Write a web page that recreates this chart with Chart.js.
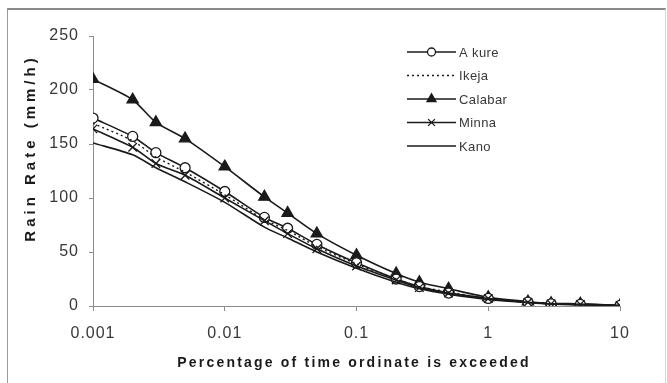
<!DOCTYPE html>
<html>
<head>
<meta charset="utf-8">
<script src="https://cdn.jsdelivr.net/npm/chart.js@4.4.1/dist/chart.umd.min.js"></script>
<style>
  html, body { margin: 0; padding: 0; background: #fff; }
  #wrap { position: relative; width: 667px; height: 383px; }
  #frame {
    position: absolute; left: 7px; top: 8px; width: 657px; height: 400px;
    border-left: 1px solid #9a9a9a; border-top: 2px solid #8a8a8a; border-right: 1px solid #d8d8d8;
    pointer-events: none;
  }
</style>
</head>
<body>
<div id="wrap">
  <canvas id="chart" width="667" height="383"></canvas>
  <div id="frame"></div>
</div>
<script>
const percentages = [0.001, 0.002, 0.003, 0.005, 0.01, 0.02, 0.03, 0.05, 0.1, 0.2, 0.3, 0.5, 1, 2, 3, 5, 10];

const akure   = [174, 157, 142, 128, 106, 82, 72, 57, 40, 25, 18, 12, 7, 3.5, 2, 1.5, 0.5];
const ikeja   = [169, 153, 138, 124, 103, 80, 70, 55, 39, 25, 18, 13, 7, 4, 2, 1.5, 0.5];
const calabar = [210, 191, 170, 155, 129, 101, 86, 67, 47, 30, 22, 16, 8, 4, 2.5, 2, 0.5];
const minna   = [164, 147, 132, 121, 100, 79, 67, 53, 37, 24, 17, 12, 7, 3.5, 2, 1.5, 0.5];
const kano    = [151, 140, 128, 115, 96, 73, 63, 50, 35, 22, 16, 11, 6, 3, 2, 1, 0.5];

const xTicks = [0.001, 0.01, 0.1, 1, 10];
const yTicks = [0, 50, 100, 150, 200, 250];

const INK = '#1a1a1a';
const LABEL = '#383838';
const AXIS = '#8c8c8c';
const FONT = '"Liberation Sans", Arial, sans-serif';

function series(label, values, extra) {
    return Object.assign({
        label,
        data: percentages.map((p, i) => ({ x: p, y: values[i] })),
        borderColor: INK,
        backgroundColor: INK,
        borderWidth: 1.6,
        tension: 0.25,
        pointRadius: 0,
        pointBorderColor: INK,
        pointBorderWidth: 1.3,
    }, extra);
}

const datasets = [
    series('Kano', kano, {}),
    series('Minna', minna, { pointStyle: 'crossRot', pointRadius: 6 }),
    series('Ikeja', ikeja, { borderDash: [2, 3], borderWidth: 1.4 }),
    series('A kure', akure, { pointStyle: 'circle', pointRadius: 5, pointBackgroundColor: '#fff' }),
    series('Calabar', calabar, { pointStyle: 'triangle', pointRadius: 6.5 }),
];

const legendOrder = ['A kure', 'Ikeja', 'Calabar', 'Minna', 'Kano'];

const spacing = {
    id: 'spacing',
    beforeDraw(chart) { chart.ctx.letterSpacing = '1px'; },
    beforeLayout(chart) { chart.ctx.letterSpacing = '1px'; },
};

const overlay = {
    id: 'overlay',
    afterDraw(chart) {
        const ctx = chart.ctx;
        ctx.save();
        ctx.fillStyle = INK;

        // axis titles
        ctx.font = 'bold 14px ' + FONT;
        ctx.letterSpacing = '2.2px';
        ctx.textAlign = 'center';
        ctx.textBaseline = 'middle';
        ctx.fillText('Percentage of time ordinate is exceeded', 354, 363);

        ctx.save();
        ctx.translate(31, 148);
        ctx.rotate(-Math.PI / 2);
        ctx.font = 'bold 15px ' + FONT;
        ctx.letterSpacing = '4px';
        ctx.fillText('Rain Rate (mm/h)', 0, 0);
        ctx.restore();

        // legend
        ctx.font = '13px ' + FONT;
        ctx.letterSpacing = '0.4px';
        ctx.textAlign = 'left';
        const x0 = 407, x1 = 456, y0 = 52, dy = 23.5;
        legendOrder.forEach((name, i) => {
            const ds = chart.data.datasets.find(d => d.label === name);
            const y = y0 + i * dy;
            ctx.save();
            ctx.strokeStyle = INK;
            ctx.lineWidth = ds.borderWidth;
            ctx.setLineDash(ds.borderDash || []);
            ctx.beginPath();
            ctx.moveTo(x0, y);
            ctx.lineTo(x1, y);
            ctx.stroke();
            ctx.restore();
            if (ds.pointStyle && ds.pointRadius) {
                ctx.save();
                ctx.strokeStyle = INK;
                ctx.fillStyle = ds.pointBackgroundColor || INK;
                ctx.lineWidth = ds.pointBorderWidth;
                Chart.helpers.drawPoint(ctx, {
                    pointStyle: ds.pointStyle,
                    radius: ds.pointRadius * 0.8,
                    borderWidth: ds.pointBorderWidth,
                    rotation: 0,
                }, (x0 + x1) / 2, y);
                ctx.restore();
            }
            ctx.fillStyle = LABEL;
            ctx.fillText(name, x1 + 3, y + 1);
        });
        ctx.restore();
    },
};

new Chart(document.getElementById('chart'), {
    type: 'line',
    data: { datasets },
    plugins: [spacing, overlay],
    options: {
        responsive: false,
        animation: false,
        layout: { padding: { left: 10, right: 47, top: 36, bottom: 0 } },
        plugins: { legend: { display: false }, tooltip: { enabled: false } },
        scales: {
            x: {
                type: 'logarithmic',
                min: 0.001,
                max: 10,
                afterBuildTicks: s => { s.ticks = xTicks.map(v => ({ value: v })); },
                afterFit: s => { s.height = 77; },
                ticks: {
                    color: LABEL,
                    padding: 13,
                    maxRotation: 0,
                    font: { family: FONT, size: 16 },
                    callback: v => String(v),
                },
                grid: { drawOnChartArea: false, drawTicks: true, tickLength: 5, color: AXIS },
                border: { color: AXIS, width: 1 },
            },
            y: {
                min: 0,
                max: 250,
                afterBuildTicks: s => { s.ticks = yTicks.map(v => ({ value: v })); },
                afterFit: s => { s.width = 83; },
                ticks: {
                    color: LABEL,
                    padding: 10,
                    font: { family: FONT, size: 16 },
                },
                grid: { drawOnChartArea: false, drawTicks: true, tickLength: 4, color: AXIS },
                border: { color: AXIS, width: 1 },
            },
        },
    },
});
</script>
</body>
</html>
